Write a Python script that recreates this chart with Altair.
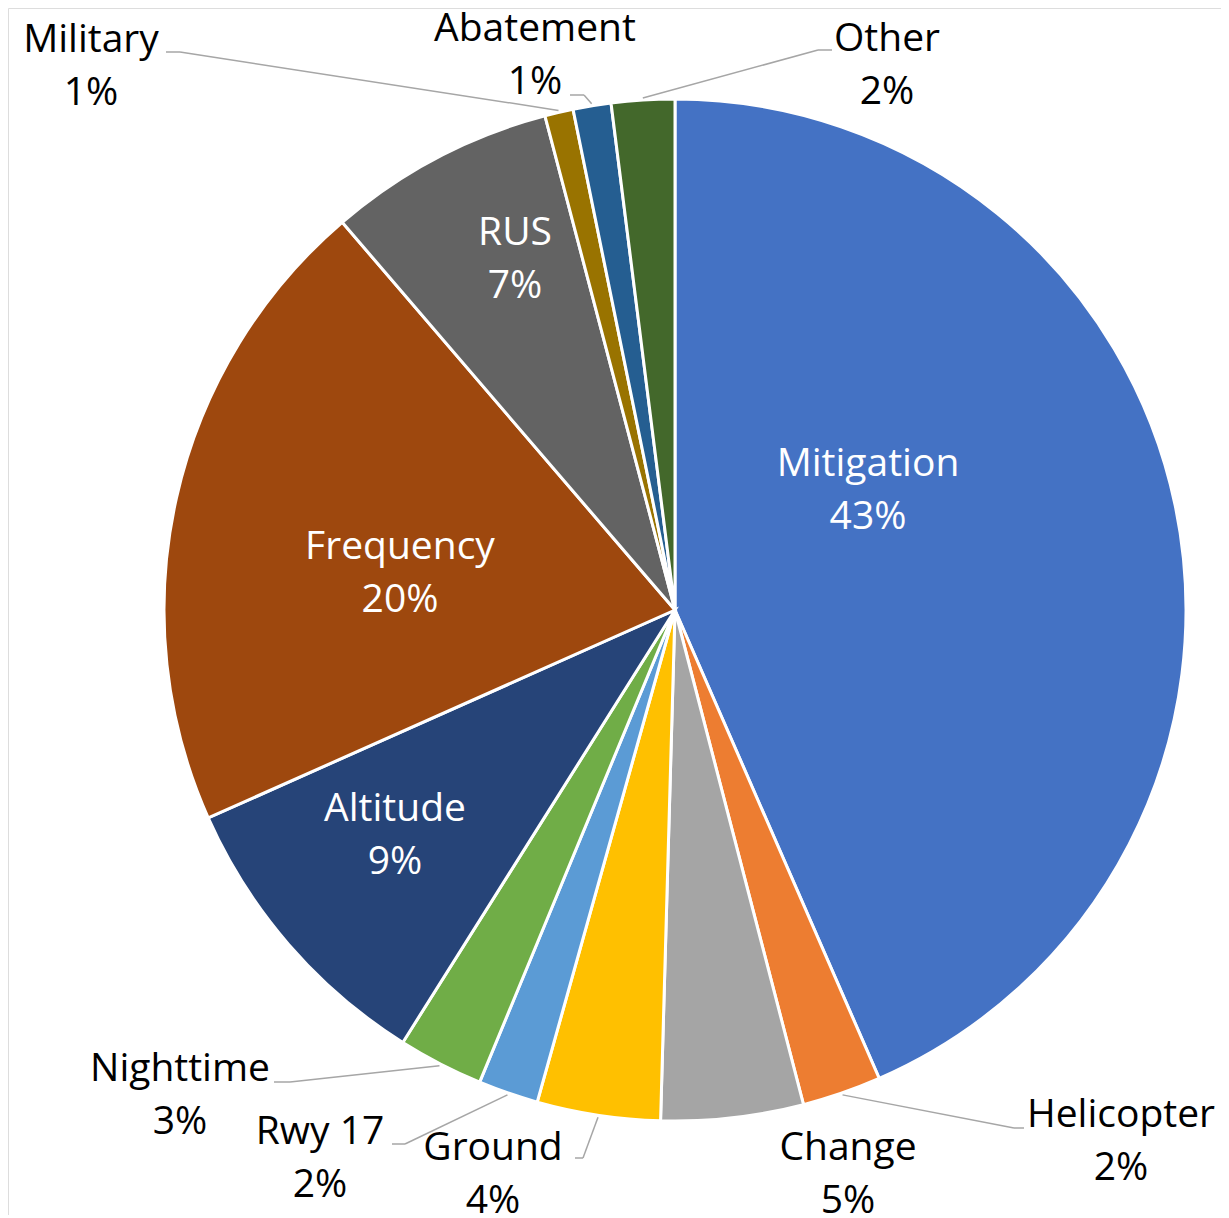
import altair as alt
import pandas as pd

# ---- data ----
categories = ["Mitigation", "Helicopter", "Change", "Ground", "Rwy 17", "Nighttime",
              "Altitude", "Frequency", "RUS", "Military", "Abatement", "Other"]
values = [43.5, 2.5, 4.5, 3.9, 1.9, 2.7, 9.4, 20.4, 7.2, 0.9, 1.2, 2.0]
pct_labels = ["43%", "2%", "5%", "4%", "2%", "3%", "9%", "20%", "7%", "1%", "1%", "2%"]

# ---- styles ----
colors = ["#4472C4", "#ED7D31", "#A5A5A5", "#FFC000", "#5B9BD5", "#70AD47",
          "#264478", "#9E480E", "#636363", "#997300", "#255E91", "#43682B"]
text_colors = ["white", "black", "black", "black", "black", "black",
               "white", "white", "white", "black", "black", "black"]

# ---- label layout (offsets from the pie centre, first-line baseline) ----
label_dx = [193, 446, 173, -182, -355, -495, -280, -275, -160, -584, -140, 212]
label_dy = [-134, 517, 550, 550, 534, 471, 211, -51, -365, -558, -569, -559]
# leader lines: horizontal stub (side -> elbow) at lead_dy, then to slice edge
side_dx = [None, 349, None, -100, -283, -401, None, None, None, -509, -105, 157]
elbow_dx = [None, 339, None, -92, -270, -385, None, None, None, -495, -91, 143]
lead_dy = [None, 518, None, 548, 534, 472, None, None, None, -558, -515, -560]

CX, CY = 667, 602      # pie centre in plot coordinates
R = 511                # pie radius
RL = 513               # leader end radius

df = pd.DataFrame({
    "idx": list(range(len(categories))),
    "category": categories,
    "value": values,
    "label": [c + "\n" + p for c, p in zip(categories, pct_labels)],
    "tcolor": text_colors,
    "label_dx": label_dx,
    "label_dy": label_dy,
    "side_dx": side_dx,
    "elbow_dx": elbow_dx,
    "lead_dy": lead_dy,
})

base = alt.Chart(df)

pie = base.mark_arc(radius=R, stroke="white", strokeWidth=3).encode(
    theta=alt.Theta("value:Q", stack=True),
    color=alt.Color("category:N", scale=alt.Scale(domain=categories, range=colors), legend=None),
    order=alt.Order("idx:Q"),
    x=alt.value(CX),
    y=alt.value(CY),
)

geo = base.transform_joinaggregate(
    total="sum(value)"
).transform_window(
    cum="sum(value)", sort=[alt.SortField("idx")], frame=[None, 0]
).transform_calculate(
    mid="(datum.cum - datum.value/2) / datum.total * 2 * PI",
).transform_calculate(
    ex=f"{CX} + {RL} * sin(datum.mid)",
    ey=f"{CY} - {RL} * cos(datum.mid)",
    elx=f"{CX} + datum.elbow_dx",
    sx=f"{CX} + datum.side_dx",
    ly=f"{CY} + datum.lead_dy",
    tx=f"{CX} + datum.label_dx",
    ty=f"{CY} + datum.label_dy",
)

leaders = geo.transform_filter("isValid(datum.side_dx)")

seg1 = leaders.mark_rule(color="#A6A6A6", strokeWidth=1.5).encode(
    x=alt.X("ex:Q", scale=None, axis=None),
    y=alt.Y("ey:Q", scale=None, axis=None),
    x2="elx:Q",
    y2="ly:Q",
)
seg2 = leaders.mark_rule(color="#A6A6A6", strokeWidth=1.5).encode(
    x=alt.X("elx:Q", scale=None, axis=None),
    y=alt.Y("ly:Q", scale=None, axis=None),
    x2="sx:Q",
    y2="ly:Q",
)

labels = geo.mark_text(
    align="center", baseline="alphabetic", lineBreak="\n",
    font="Open Sans", fontSize=39, lineHeight=53,
).encode(
    x=alt.X("tx:Q", scale=None, axis=None),
    y=alt.Y("ty:Q", scale=None, axis=None),
    text="label:N",
    color=alt.Color("tcolor:N", scale=None, legend=None),
)

chart = alt.layer(pie, seg1, seg2, labels).properties(
    width=1213, height=1207,
    autosize=alt.AutoSizeParams(type="none"),
    padding=0,
).configure_view(stroke="transparent", strokeWidth=0).configure(background="white")

chart.save("out.html", embed_options={"renderer": "svg", "actions": False})
